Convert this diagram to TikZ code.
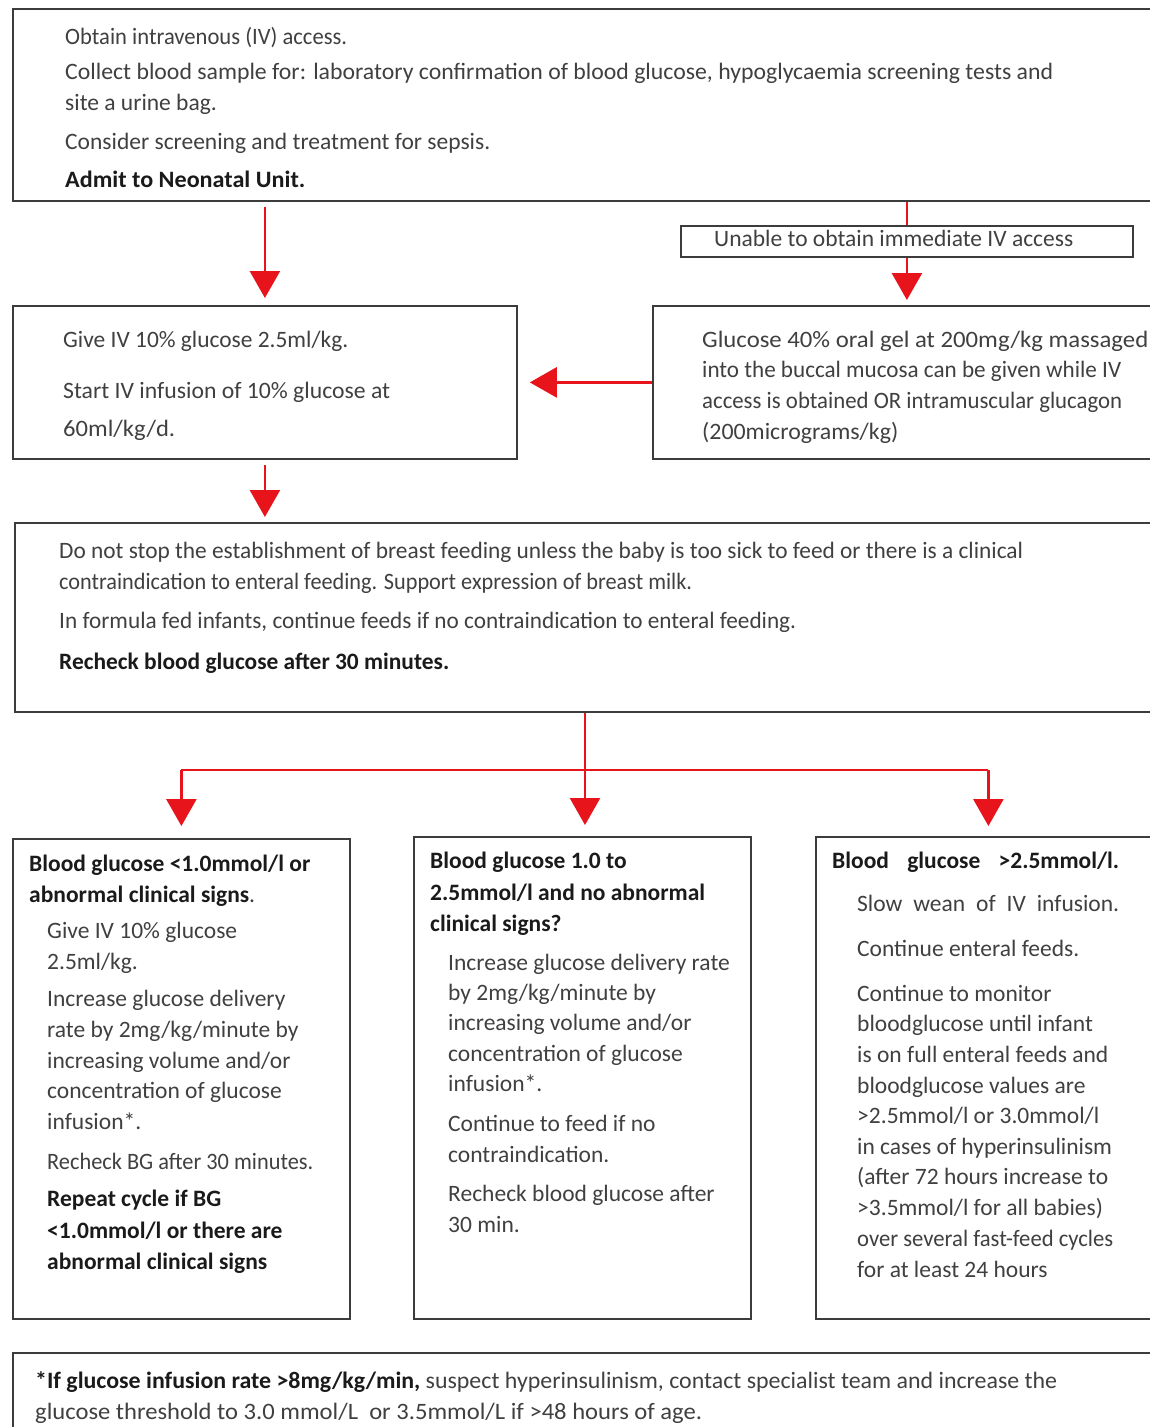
\documentclass[tikz,border=0pt]{standalone}
\usepackage{fontspec}
\usepackage{graphicx}
\setmainfont{Carlito}
\usetikzlibrary{arrows.meta}
\definecolor{flowred}{HTML}{E8141B}
\definecolor{boxline}{HTML}{3C3C3C}
\definecolor{bodytext}{HTML}{404040}
\definecolor{headtext}{HTML}{1A1A1A}
\newcommand{\hdline}[1]{\textcolor{headtext}{\bfseries #1}}
% set a line to a given width (0 keeps its natural width)
\newcommand{\fitline}[2]{\ifdim #1pt>0pt \resizebox{#1pt}{\height}{#2}\else #2\fi}
\begin{document}
\begin{tikzpicture}[x=1pt,y=-1pt,
  box/.style={draw=boxline, line width=1.8pt, rectangle, inner sep=0pt, anchor=north west},
  txt/.style={anchor=base west, inner sep=0pt, text=bodytext, font=\fontsize{23.5}{28}\selectfont},
  arr/.style={draw=flowred, line width=2.6pt, -{Triangle[length=27pt,width=30pt]}},
  link/.style={draw=flowred, line width=2.6pt},
]
\useasboundingbox (0,0) rectangle (1150,1427);
\fill[white] (0,0) rectangle (1150,1427);
\clip (0,0) rectangle (1150,1427);

% boxes
\node[box, minimum width=1150pt, minimum height=192pt] (start) at (12,8) {};
\node[box, minimum width=452pt, minimum height=31pt] (noiv) at (680,225) {};
\node[box, minimum width=504pt, minimum height=153pt] (givev) at (12,305) {};
\node[box, minimum width=508pt, minimum height=153pt] (gel) at (652,305) {};
\node[box, minimum width=1146pt, minimum height=189pt] (feed) at (14,522) {};
\node[box, minimum width=337pt, minimum height=480pt] (low) at (12,838) {};
\node[box, minimum width=337pt, minimum height=482pt] (mid) at (413,836) {};
\node[box, minimum width=345pt, minimum height=482pt] (high) at (815,836) {};
\node[box, minimum width=1150pt, minimum height=100pt] (note) at (12,1352) {};

% texts
\foreach \yp/\tw/\tx [count=\k] in {44/282/{Obtain intravenous (IV) access.},
  79/988/{Collect blood sample for: laboratory confirmation of blood glucose, hypoglycaemia screening tests and},
  110/0/{site a urine bag.},
  149/425/{Consider screening and treatment for sepsis.},
  187/240/{\hdline{Admit to Neonatal Unit.}}}
  \node[txt, name=st\k] at (65,\yp) {\fitline{\tw}{\tx}};

\node[txt, name=nv1] at (714,246) {Unable to obtain immediate IV access};

\foreach \yp/\tw/\tx [count=\k] in {347/285/{Give IV 10\% glucose 2.5ml/kg.},
  398/327/{Start IV infusion of 10\% glucose at},
  436/112/{60ml/kg/d.}}
  \node[txt, name=gv\k] at (63,\yp) {\fitline{\tw}{\tx}};

\foreach \yp/\tw/\tx [count=\k] in {347/446/{Glucose 40\% oral gel at 200mg/kg massaged},
  377/419/{into the buccal mucosa can be given while IV},
  408/420/{access is obtained OR intramuscular glucagon},
  439/196/{(200micrograms/kg)}}
  \node[txt, name=gl\k] at (702,\yp) {\fitline{\tw}{\tx}};

\foreach \yp/\tw/\tx [count=\k] in {558/964/{Do not stop the establishment of breast feeding unless the baby is too sick to feed or there is a clinical},
  589/633/{contraindication to enteral feeding. Support expression of breast milk.},
  628/737/{In formula fed infants, continue feeds if no contraindication to enteral feeding.},
  669/390/{\hdline{Recheck blood glucose after 30 minutes.}}}
  \node[txt, name=fd\k] at (59,\yp) {\fitline{\tw}{\tx}};

% low glucose branch
\node[txt, name=lh1] at (29,871) {\hdline{Blood glucose <1.0mmol/l or}};
\node[txt, name=lh2] at (29,902) {\hdline{abnormal clinical signs}.};
\foreach \yp/\tw/\tx [count=\k] in {938/0/{Give IV 10\% glucose},
  969/0/{2.5ml/kg.},
  1006/0/{Increase glucose delivery},
  1037/0/{rate by 2mg/kg/minute by},
  1068/0/{increasing volume and/or},
  1098/0/{concentration of glucose},
  1129/0/{infusion*.},
  1169/266/{Recheck BG after 30 minutes.},
  1206/0/{\hdline{Repeat cycle if BG}},
  1238/0/{\hdline{<1.0mmol/l or there are}},
  1269/0/{\hdline{abnormal clinical signs}}}
  \node[txt, name=lo\k] at (47,\yp) {\fitline{\tw}{\tx}};

% middle branch
\foreach \yp/\tx [count=\k] in {868/{Blood glucose 1.0 to},
  900/{2.5mmol/l and no abnormal},
  931/{clinical signs?}}
  \node[txt, name=mh\k] at (430,\yp) {\hdline{\tx}};
\foreach \yp/\tx [count=\k] in {970/{Increase glucose delivery rate},
  1000/{by 2mg/kg/minute by},
  1030/{increasing volume and/or},
  1061/{concentration of glucose},
  1091/{infusion*.},
  1131/{Continue to feed if no},
  1162/{contraindication.},
  1201/{Recheck blood glucose after},
  1232/{30 min.}}
  \node[txt, name=md\k] at (448,\yp) {\tx};

% high glucose branch
\node[txt, name=hh1] at (832,868) {\hdline{\hbox to 287pt{Blood\hfill glucose\hfill >2.5mmol/l.}}};
\node[txt, name=hi0] at (857,911) {\hbox to 262pt{Slow\hfill wean\hfill of\hfill IV\hfill infusion.}};
\foreach \yp/\tw/\tx [count=\k] in {956/0/{Continue enteral feeds.},
  1001/0/{Continue to monitor},
  1031/0/{bloodglucose until infant},
  1062/0/{is on full enteral feeds and},
  1093/0/{bloodglucose values are},
  1123/0/{>2.5mmol/l or 3.0mmol/l},
  1154/0/{in cases of hyperinsulinism},
  1184/0/{(after 72 hours increase to},
  1215/0/{>3.5mmol/l for all babies)},
  1246/256/{over several fast-feed cycles},
  1277/0/{for at least 24 hours}}
  \node[txt, name=hi\k] at (857,\yp) {\fitline{\tw}{\tx}};

% footnote
\node[txt, name=nt1] at (35,1388) {\fitline{1022}{\hdline{*If glucose infusion rate >8mg/kg/min,} suspect hyperinsulinism, contact specialist team and increase the}};
\node[txt, name=nt2] at (35,1419) {\fitline{667}{glucose threshold to 3.0 mmol/L\ \ or 3.5mmol/L if >48 hours of age.}};

% connectors
\draw[arr, shorten <=5pt, shorten >=7pt] (start.south -| givev.north) -- (givev.north);
\draw[link] (start.south -| noiv.north) -- (noiv.north);
\draw[arr, shorten >=5pt] (noiv.south) -- (gel.north);
\draw[arr, shorten >=12pt] (gel.west) -- (givev.east);
\draw[arr, shorten <=5pt, shorten >=5pt] (givev.south) -- (givev.south |- feed.north);
\coordinate (split) at (585,770);
\draw[arr, shorten >=11pt] (feed.south -| split) -- (split |- mid.north);
\draw[link] (low.north |- split) -- (high.north |- split);
\draw[arr, shorten >=12pt] (low.north |- split) -- (low.north);
\draw[arr, shorten >=10pt] (high.north |- split) -- (high.north);
\end{tikzpicture}
\end{document}
